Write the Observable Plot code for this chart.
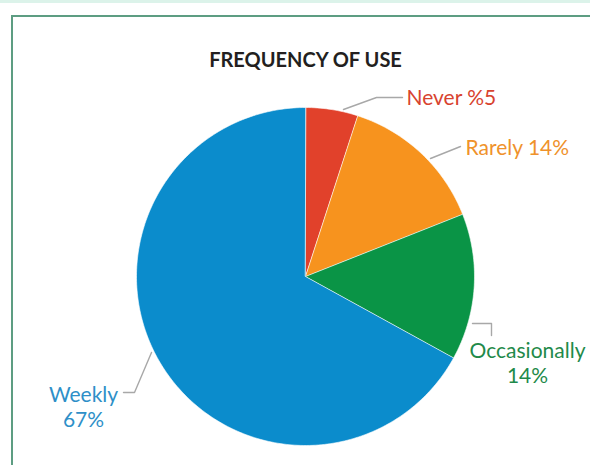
<!DOCTYPE html>
<html>
<head>
<meta charset="utf-8">
<script src="https://cdn.jsdelivr.net/npm/d3@7"></script>
<script src="https://cdn.jsdelivr.net/npm/@observablehq/plot@0.6"></script>
<style>
  html, body { margin: 0; padding: 0; background: #fff; }
  #wrap { position: relative; width: 590px; height: 465px; overflow: hidden; font-family: Lato, sans-serif; }
  #topline { position: absolute; left: 0; top: 0; width: 590px; height: 3px; background: #dcf3ea; }
  #frame { position: absolute; left: 11px; top: 15px; width: 600px; height: 470px; border-top: 2px solid #5d9d82; border-left: 2px solid #5d9d82; }
  #chart { position: absolute; left: 0; top: 0; }
</style>
</head>
<body>
<div id="wrap">
  <div id="topline"></div>
  <div id="frame"></div>
  <div id="chart"></div>
</div>
<script>
// ---- data ----
const title = "FREQUENCY OF USE";
const categories = ["Never", "Rarely", "Occasionally", "Weekly"];
const values = [5, 14, 14, 67];
const sliceColors = ["#e1412b", "#f7931e", "#0a9446", "#0b8ccc"];
const labelColors = ["#d8432f", "#ef922b", "#1f8a4a", "#2e8fc8"];
const labelLines = [["Never %5"], ["Rarely 14%"], ["Occasionally", "14%"], ["Weekly", "67%"]];

// ---- layout ----
const W = 590, H = 465;
const cx = 305, cy = 276, R = 169;
const labelPos = [
  {x: 406, y: 104, anchor: "start", dy: 0},
  {x: 465, y: 154, anchor: "start", dy: 0},
  {x: 527, y: 357, anchor: "middle", dy: 25},
  {x: 83,  y: 401, anchor: "middle", dy: 25}
];
const leaders = [
  [[343, 109], [376, 97], [402, 97]],
  [[430, 158], [460, 146]],
  [[472, 323], [491, 323], [491, 335]],
  [[123, 392], [134, 392], [151, 352]]
];

// ---- build slice polygons from data ----
const arcs = d3.pie().sort(null).value(d => d.v).startAngle(0).endAngle(2 * Math.PI)(
  categories.map((c, i) => ({c, v: values[i]}))
);
const polyPts = [];
for (const a of arcs) {
  const cat = a.data.c;
  polyPts.push({cat, x: cx, y: cy});
  const n = Math.max(2, Math.ceil((a.endAngle - a.startAngle) / (Math.PI / 180)));
  for (let k = 0; k <= n; k++) {
    const t = a.startAngle + (a.endAngle - a.startAngle) * k / n;
    polyPts.push({cat, x: cx + R * Math.sin(t), y: cy - R * Math.cos(t)});
  }
}

const textRows = [];
labelLines.forEach((lines, i) => {
  lines.forEach((s, j) => {
    textRows.push({text: s, x: labelPos[i].x, y: labelPos[i].y + j * labelPos[i].dy,
                   anchor: labelPos[i].anchor, color: labelColors[i]});
  });
});
const leaderPts = [];
leaders.forEach((pts, i) => pts.forEach(p => leaderPts.push({id: i, x: p[0], y: p[1]})));

const chart = Plot.plot({
  width: W, height: H,
  margin: 0,
  style: {background: "transparent", fontFamily: "Lato, sans-serif"},
  x: {domain: [0, W], range: [0, W], axis: null},
  y: {domain: [0, H], range: [0, H], axis: null},
  color: {domain: categories, range: sliceColors},
  marks: [
    Plot.line(polyPts, {x: "x", y: "y", z: "cat", fill: "cat", stroke: "#ffffff", strokeWidth: 0.6, curve: "linear-closed"}),
    Plot.line(leaderPts, {x: "x", y: "y", z: "id", stroke: "#a8a8a8", strokeWidth: 1.4}),
    Plot.text([title], {x: () => cx, y: () => 66, text: d => d, fontSize: 20, fontWeight: "bold", fill: "#231f20", textAnchor: "middle", lineAnchor: "bottom"}),
    Plot.text(textRows.filter(d => d.anchor === "start"), {x: "x", y: "y", text: "text", fill: "color", fontSize: 21, textAnchor: "start", lineAnchor: "bottom"}),
    Plot.text(textRows.filter(d => d.anchor === "middle"), {x: "x", y: "y", text: "text", fill: "color", fontSize: 21, textAnchor: "middle", lineAnchor: "bottom"})
  ]
});
document.getElementById("chart").appendChild(chart);
</script>
</body>
</html>
